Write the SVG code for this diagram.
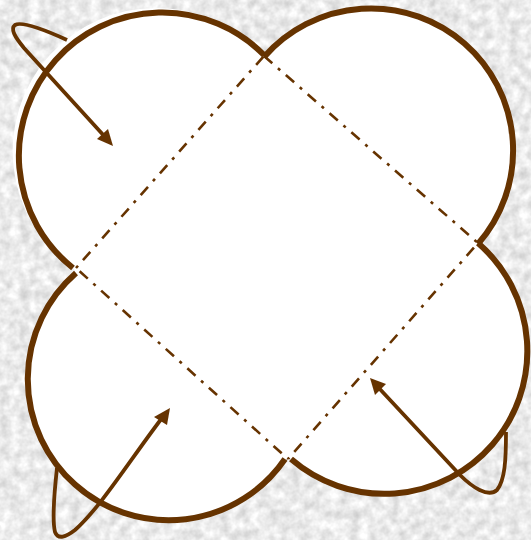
<svg xmlns="http://www.w3.org/2000/svg" width="531" height="540" viewBox="0 0 531 540">
<style>
.line{fill:none;stroke:#663300;stroke-width:6;stroke-linecap:butt}
.fold{fill:none;stroke:#663300;stroke-width:2.6;stroke-dasharray:11 7.5 3 7.5}
.arrow{fill:none;stroke:#663300;stroke-width:3.8}
.head{fill:#663300}
</style>
<defs>
<filter id="tex" x="0" y="0" width="100%" height="100%" color-interpolation-filters="sRGB">
<feTurbulence type="fractalNoise" baseFrequency="0.1" numOctaves="3" seed="4"/>
<feColorMatrix type="matrix" values="0.28 0 0 0 0.78 0.28 0 0 0 0.78 0.28 0 0 0 0.78 0 0 0 0 1"/>
</filter>
</defs>
<rect id="background" width="531" height="540" filter="url(#tex)"/>
<path id="sheet" fill="#fff" d="M264 57A142 142 0 0 1 478 244A142 142 0 0 1 291 459L288 461L285 459A141 141 0 1 1 76 273L73 268A143.3 143.3 0 1 1 264 57Z"/>
<g id="outline">
<path class="line" d="M73 268A143.3 143.3 0 1 1 264 55"/>
<path class="line" d="M264 57A142 142 0 0 1 478 244"/>
<path class="line" d="M478 243A142 142 0 0 1 291 459"/>
<path class="line" d="M285 459A141 141 0 1 1 76 273"/>
</g>
<g id="folds">
<path class="fold" d="M264 56L478 243"/>
<path class="fold" stroke-dashoffset="-6.2" d="M478 243L288 459"/>
<path class="fold" stroke-dashoffset="-8.5" d="M288 459L76 268"/>
<path class="fold" stroke-dashoffset="-10.5" d="M76 268L264 56"/>
</g>
<g id="connectors">
<path class="arrow" d="M67 40C45 30 22 21 15 25C10 29 15 37 24 48L106 138"/>
<path class="head" d="M113 146L97 139L108 129Z"/>
<path class="arrow" d="M57 468C54 495 52 520 55 532C58 540 66 537 75 530C100 508 130 460 162 418"/>
<path class="head" d="M170 408L154 417L167 425Z"/>
<path class="arrow" d="M506 432C506 460 505 480 497 490C488 498 472 487 460 475L377 386"/>
<path class="head" d="M370 378L386 384L375 395Z"/>
</g>
</svg>
